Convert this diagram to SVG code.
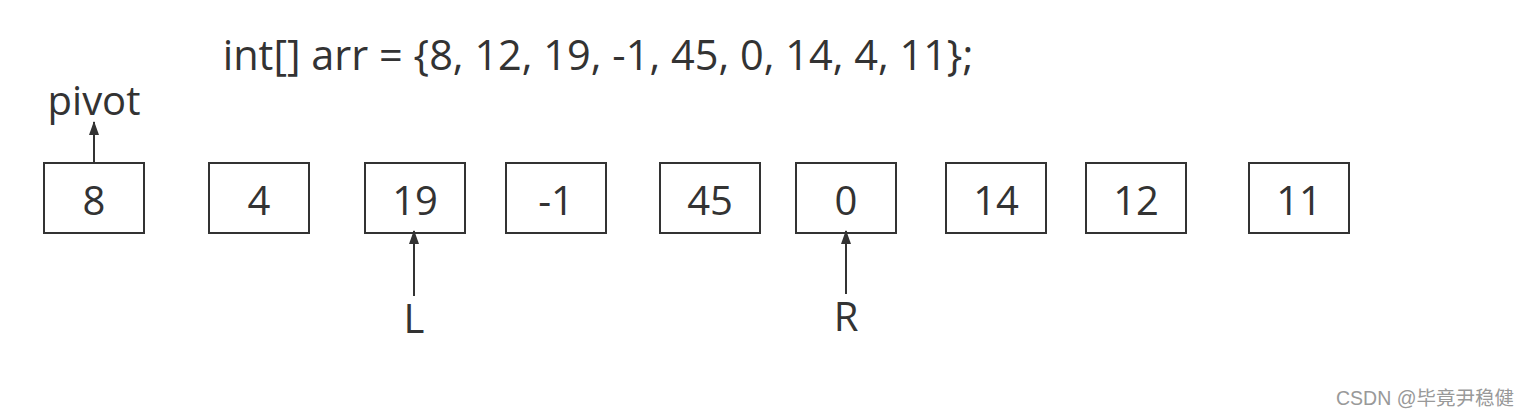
<svg xmlns="http://www.w3.org/2000/svg" width="1520" height="417" viewBox="0 0 1520 417">
<style>
.box{fill:#fff;stroke:#333;stroke-width:2}
.t{font-family:"Open Sans","Noto Sans",sans-serif;font-size:40px;fill:#333;text-anchor:middle}
.title{font-size:41.5px}
.c{stroke:#333;stroke-width:2;fill:none}
.wm{font-family:"Liberation Sans","Noto Sans CJK SC",sans-serif;font-size:19.5px;fill:#999;text-anchor:end}
</style>
<defs>
<marker id="ah" viewBox="0 0 14 10" refX="13" refY="5" markerWidth="14" markerHeight="10" markerUnits="userSpaceOnUse" orient="auto">
<path d="M0,0 L14,5 L0,10 Z" fill="#333"/>
</marker>
</defs>
<rect width="1520" height="417" fill="#fff"/>
<text class="t title" x="598" y="70">int[] arr = {8, 12, 19, -1, 45, 0, 14, 4, 11};</text>
<g id="pivot-label"><text class="t" x="94" y="115">pivot</text></g>
<g id="n0"><rect class="box" x="44" y="163" width="100" height="70"/><text class="t" x="94" y="215">8</text></g>
<g id="n1"><rect class="box" x="209" y="163" width="100" height="70"/><text class="t" x="259" y="215">4</text></g>
<g id="n2"><rect class="box" x="365" y="163" width="100" height="70"/><text class="t" x="415" y="215">19</text></g>
<g id="n3"><rect class="box" x="506" y="163" width="100" height="70"/><text class="t" x="556" y="215">-1</text></g>
<g id="n4"><rect class="box" x="660" y="163" width="100" height="70"/><text class="t" x="710" y="215">45</text></g>
<g id="n5"><rect class="box" x="796" y="163" width="100" height="70"/><text class="t" x="846" y="215">0</text></g>
<g id="n6"><rect class="box" x="946" y="163" width="100" height="70"/><text class="t" x="996" y="215">14</text></g>
<g id="n7"><rect class="box" x="1086" y="163" width="100" height="70"/><text class="t" x="1136" y="215">12</text></g>
<g id="n8"><rect class="box" x="1249" y="163" width="100" height="70"/><text class="t" x="1299" y="215">11</text></g>
<g id="L-label"><text class="t" x="414" y="333">L</text></g>
<g id="R-label"><text class="t" x="846" y="331">R</text></g>
<g id="connectors">
<line class="c" x1="94" y1="162" x2="94" y2="122" marker-end="url(#ah)"/>
<line class="c" x1="414" y1="296" x2="414" y2="231" marker-end="url(#ah)"/>
<line class="c" x1="846" y1="294" x2="846" y2="231" marker-end="url(#ah)"/>
</g>
<text class="wm" x="1514" y="405">CSDN @毕竟尹稳健</text>
</svg>
